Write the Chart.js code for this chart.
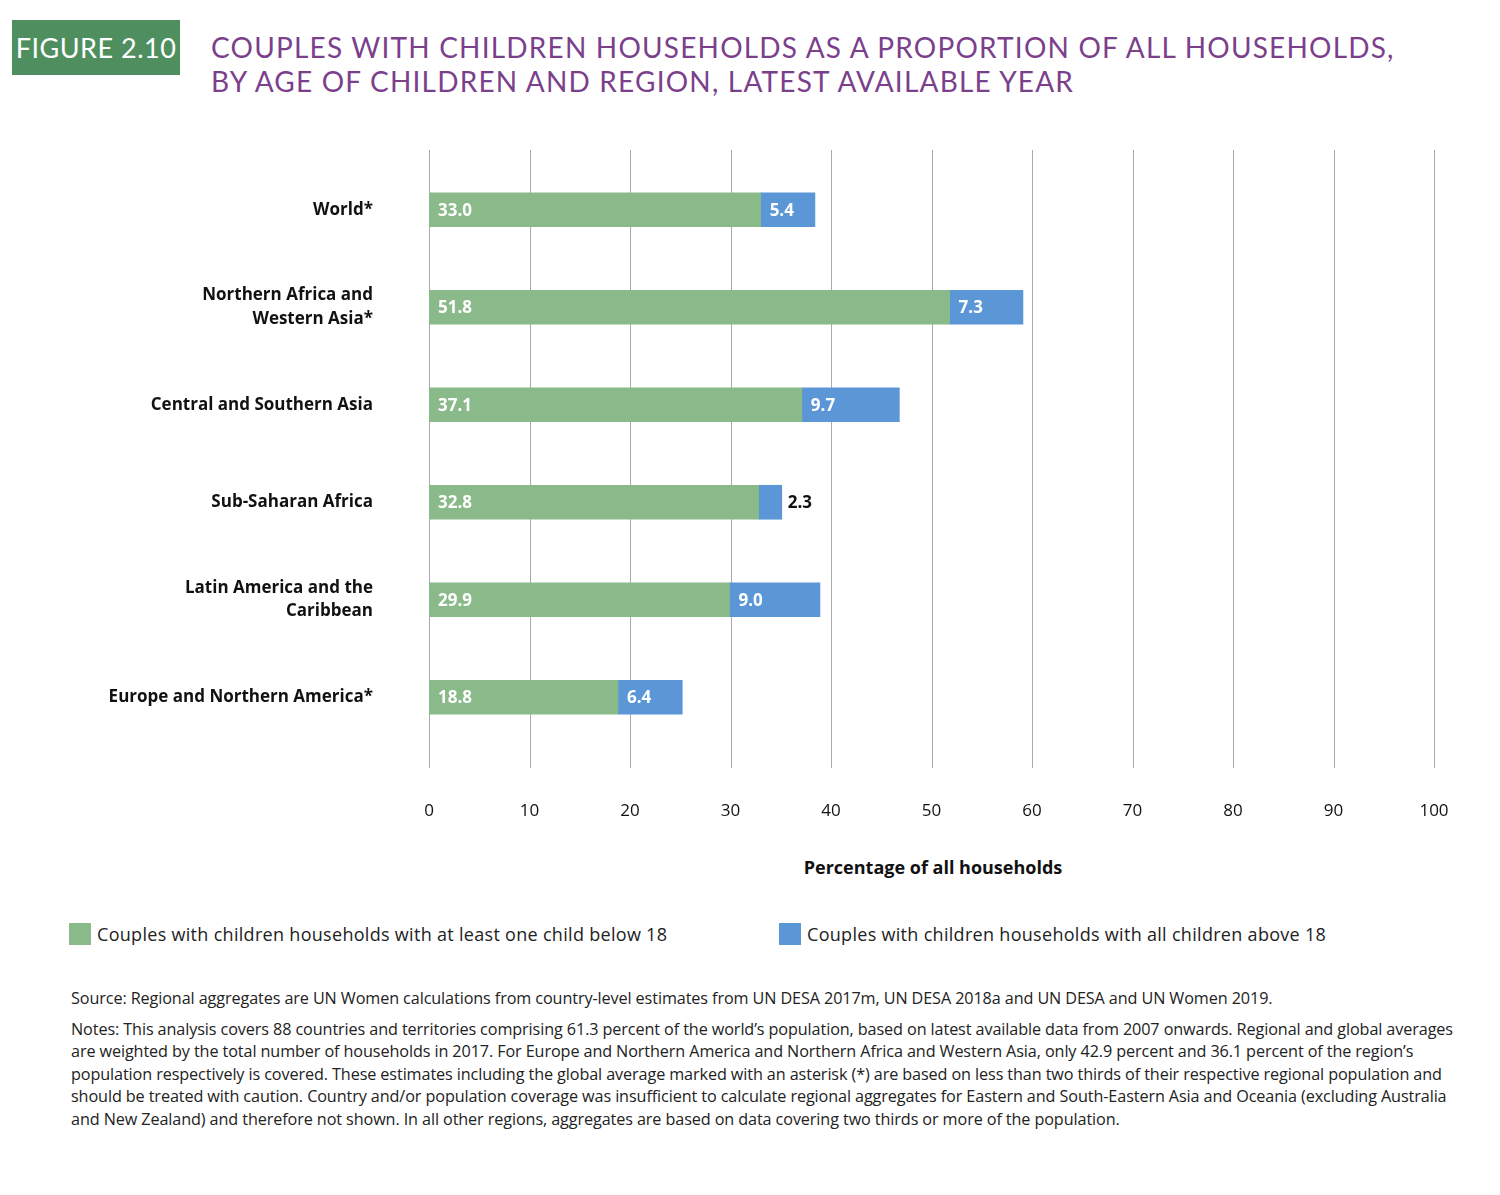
<!DOCTYPE html>
<html><head><meta charset="utf-8">
<script src="https://cdn.jsdelivr.net/npm/chart.js@4"></script>
<style>
body{margin:0;width:1500px;height:1195px;background:#fff;font-family:"Open Sans",Lato,sans-serif;position:relative;overflow:hidden}
#badge{position:absolute;left:12px;top:20px;width:168px;height:55px;background:#4f8f5f;color:#fff;font-family:Lato;font-size:27px;line-height:55px;text-align:center;letter-spacing:0.5px}
#title{position:absolute;left:211px;top:30px;color:#7b3f8c;font-family:Lato;font-size:28px;line-height:34px;letter-spacing:1.2px;white-space:nowrap}
#cv{position:absolute;left:0;top:130px}
#axt{position:absolute;left:0;width:1866px;text-align:center;top:855px;font-weight:bold;font-size:18px;color:#111}
.lg{position:absolute;top:922px;font-size:18px;color:#222;letter-spacing:0.3px}
.sw{display:inline-block;width:22px;height:22px;vertical-align:-4px;margin-right:6px}
#src{position:absolute;left:71px;top:987px;width:1400px;font-size:16.2px;line-height:22.5px;color:#222;letter-spacing:-0.1px}
</style></head><body>
<div id="badge">FIGURE 2.10</div>
<div id="title">COUPLES WITH CHILDREN HOUSEHOLDS AS A PROPORTION OF ALL HOUSEHOLDS,<br>BY AGE OF CHILDREN AND REGION, LATEST AVAILABLE YEAR</div>
<canvas id="cv" width="1500" height="690"></canvas>
<div id="axt">Percentage of all households</div>
<div class="lg" style="left:69px"><span class="sw" style="background:#8ab98a"></span>Couples with children households with at least one child below 18</div>
<div class="lg" style="left:779px"><span class="sw" style="background:#5b97d6"></span>Couples with children households with all children above 18</div>
<div id="src">Source: Regional aggregates are UN Women calculations from country-level estimates from UN DESA 2017m, UN DESA 2018a and UN DESA and UN Women 2019.
<div style="margin-top:8px">Notes: This analysis covers 88 countries and territories comprising 61.3 percent of the world’s population, based on latest available data from 2007 onwards. Regional and global averages are weighted by the total number of households in 2017. For Europe and Northern America and Northern Africa and Western Asia, only 42.9 percent and 36.1 percent of the region’s population respectively is covered. These estimates including the global average marked with an asterisk (*) are based on less than two thirds of their respective regional population and should be treated with caution. Country and/or population coverage was insufficient to calculate regional aggregates for Eastern and South-Eastern Asia and Oceania (excluding Australia and New Zealand) and therefore not shown. In all other regions, aggregates are based on data covering two thirds or more of the population.</div></div>
<script>
const categories=[["World*"],["Northern Africa and","Western Asia*"],["Central and Southern Asia"],["Sub-Saharan Africa"],["Latin America and the","Caribbean"],["Europe and Northern America*"]];
const below18=[33.0,51.8,37.1,32.8,29.9,18.8];
const above18=[5.4,7.3,9.7,2.3,9.0,6.4];
const xTicks=[0,10,20,30,40,50,60,70,80,90,100];
const F='"Open Sans",Lato,sans-serif';
const grid={id:'grid',beforeDatasetsDraw(c){const x=c.scales.x,ctx=c.ctx;ctx.save();ctx.strokeStyle='#aaa';ctx.lineWidth=1;
 xTicks.forEach(v=>{const px=Math.round(x.getPixelForValue(v))+0.5;ctx.beginPath();ctx.moveTo(px,20);ctx.lineTo(px,638);ctx.stroke();});ctx.restore();}};
const labels={id:'lbl',afterDatasetsDraw(c){const ctx=c.ctx;ctx.save();ctx.font='bold 17px '+F;ctx.textBaseline='middle';
 c.data.datasets.forEach((d,i)=>{c.getDatasetMeta(i).data.forEach((b,j)=>{const v=d.data[j];const left=b.base;const w=b.x-b.base;
  if(w>40){ctx.fillStyle='#fff';ctx.textAlign='left';ctx.fillText(v.toFixed(1),left+9,b.y+1);}else{ctx.fillStyle='#111';ctx.textAlign='left';ctx.fillText(v.toFixed(1),b.x+6,b.y+1);}});});ctx.restore();}};
new Chart(document.getElementById('cv'),{type:'bar',
 data:{labels:categories,datasets:[{data:below18,backgroundColor:'#8ab98a',barThickness:34},{data:above18,backgroundColor:'#5b97d6',barThickness:34}]},
 options:{indexAxis:'y',responsive:false,animation:false,events:[],
  layout:{padding:{top:31,right:66,left:0,bottom:0}},
  plugins:{legend:{display:false},tooltip:{enabled:false}},
  scales:{x:{stacked:true,min:0,max:100,grid:{display:false},border:{display:false},
     afterBuildTicks(s){s.ticks=xTicks.map(v=>({value:v}));},afterFit(s){s.height=74;},
     ticks:{padding:47,color:'#111',font:{size:17,family:F}}},
   y:{stacked:true,grid:{display:false},border:{display:false},afterFit(s){s.width=429;s.paddingTop=0;s.paddingBottom=0;},
     ticks:{padding:48,color:'#111',font:{size:17,weight:'bold',family:F,lineHeight:1.4}}}}},
 plugins:[grid,labels]});
</script></body></html>
